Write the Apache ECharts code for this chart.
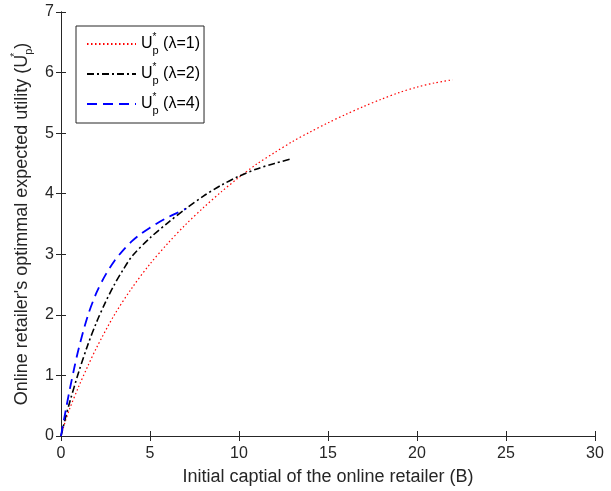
<!DOCTYPE html>
<html><head><meta charset="utf-8">
<script src="https://cdn.jsdelivr.net/npm/echarts@6/dist/echarts.min.js"></script>
<style>html,body{margin:0;padding:0;background:#fff}#c{width:611px;height:491px}</style>
</head><body><div id="c"></div>
<script>
const xTicks = [0, 5, 10, 15, 20, 25, 30];
const yTicks = [0, 1, 2, 3, 4, 5, 6, 7];
// lambda = 1 (red dotted)
const x1 = [0, 0.25, 0.5, 1, 1.5, 2, 3, 4, 5, 6, 7, 8, 9, 10, 11, 12, 13, 14, 15, 16, 17, 18, 19, 20, 21, 22];
const y1 = [0, 0.25, 0.46, 0.82, 1.15, 1.46, 2.0, 2.45, 2.84, 3.18, 3.49, 3.77, 4.03, 4.27, 4.49, 4.68, 4.86, 5.02, 5.17, 5.31, 5.44, 5.56, 5.67, 5.76, 5.83, 5.88];
// lambda = 2 (black dash-dot)
const x2 = [0, 0.25, 0.5, 1, 1.5, 2, 2.5, 3, 3.5, 4, 5, 6, 7, 8, 9, 10, 11, 12, 13];
const y2 = [0, 0.3, 0.57, 1.06, 1.5, 1.88, 2.21, 2.5, 2.75, 2.97, 3.27, 3.52, 3.75, 3.96, 4.14, 4.29, 4.41, 4.5, 4.58];
// lambda = 4 (blue dashed)
const x4 = [0, 0.25, 0.5, 0.75, 1, 1.5, 2, 2.5, 3, 3.5, 4, 4.5, 5, 5.5, 6, 6.5, 7];
const y4 = [0, 0.4, 0.78, 1.13, 1.45, 1.98, 2.37, 2.66, 2.89, 3.07, 3.22, 3.34, 3.44, 3.53, 3.61, 3.68, 3.75];

const pair = (xs, ys) => xs.map((x, i) => [x, ys[i]]);
const axisColor = '#262626';
const font = 'Liberation Sans, Arial, sans-serif';
const mkRich = (c, fs) => ({
  u: {fontSize: fs, fontFamily: font, color: c, lineHeight: 24, verticalAlign: 'middle'},
  s: {fontSize: 10, fontFamily: font, color: c, lineHeight: 10, verticalAlign: 'top', width: 0, align: 'left'},
  b: {fontSize: 11, fontFamily: font, color: c, lineHeight: 11, verticalAlign: 'bottom'},
  t: {fontSize: fs, fontFamily: font, color: c, lineHeight: 24, verticalAlign: 'middle'}
});

const baseX = {
  type: 'value', min: 0, max: 30, interval: 5,
  axisLine: {show: true, lineStyle: {color: axisColor, width: 1}},
  axisTick: {show: true, inside: true, length: 5, lineStyle: {color: axisColor}},
  splitLine: {show: false}
};
const baseY = {
  type: 'value', min: 0, max: 7, interval: 1,
  axisLine: {show: true, lineStyle: {color: axisColor, width: 1}},
  axisTick: {show: true, inside: true, length: 5, lineStyle: {color: axisColor}},
  splitLine: {show: false}
};

const chart = echarts.init(document.getElementById('c'), null, {renderer: 'canvas'});
chart.setOption({
  animation: false,
  backgroundColor: '#fff',
  grid: {left: 61, right: 16, top: 12, bottom: 55, containLabel: false},
  legend: {
    orient: 'vertical', left: 76, top: 26,
    data: ['l1', 'l2', 'l4'],
    backgroundColor: '#fff', borderColor: axisColor, borderWidth: 1, borderRadius: 0,
    padding: [6, 4, 7, 10], itemGap: 6, itemWidth: 49, itemHeight: 12,
    itemStyle: {opacity: 0},
    formatter: n => '{u|U}{s|*}{b|p}{t| (λ=' + n.slice(1) + ')}',
    textStyle: {rich: mkRich('#000', 16)}
  },
  xAxis: [
    Object.assign({}, baseX, {
      position: 'bottom',
      name: 'Initial captial of the online retailer (B)', nameLocation: 'middle', nameGap: 32,
      nameTextStyle: {fontSize: 18, fontFamily: font, color: axisColor},
      axisLabel: {show: true, fontSize: 16, fontFamily: font, color: axisColor, margin: 10,
        formatter: v => xTicks.includes(v) ? String(v) : ''}
    }),
    Object.assign({}, baseX, {position: 'top', axisLabel: {show: false}})
  ],
  yAxis: [
    Object.assign({}, baseY, {
      position: 'left',
      name: "{t|Online retailer's optimmal expected utility (}{u|U}{s|*}{b|p}{t|)}",
      nameLocation: 'middle', nameGap: 25, nameRotate: 90,
      nameTextStyle: {rich: mkRich(axisColor, 18)},
      axisLabel: {show: true, fontSize: 16, fontFamily: font, color: axisColor, margin: 7,
        formatter: v => yTicks.includes(v) ? String(v) : ''}
    }),
    Object.assign({}, baseY, {position: 'right', axisLabel: {show: false}})
  ],
  series: [
    {name: 'l1', type: 'line', data: pair(x1, y1), smooth: 0.3, symbol: 'none', xAxisIndex: 0, yAxisIndex: 0,
      lineStyle: {color: '#ff0000', width: 1.2, type: [1.5, 2.5]}, itemStyle: {color: '#ff0000'}},
    {name: 'l2', type: 'line', data: pair(x2, y2), smooth: 0.3, symbol: 'none', xAxisIndex: 0, yAxisIndex: 0,
      lineStyle: {color: '#000000', width: 1.6, type: [7, 3, 2, 3]}, itemStyle: {color: '#000000'}},
    {name: 'l4', type: 'line', data: pair(x4, y4), smooth: 0.3, symbol: 'none', xAxisIndex: 0, yAxisIndex: 0,
      lineStyle: {color: '#0000ff', width: 1.8, type: [10, 6]}, itemStyle: {color: '#0000ff'}}
  ]
});
</script></body></html>
